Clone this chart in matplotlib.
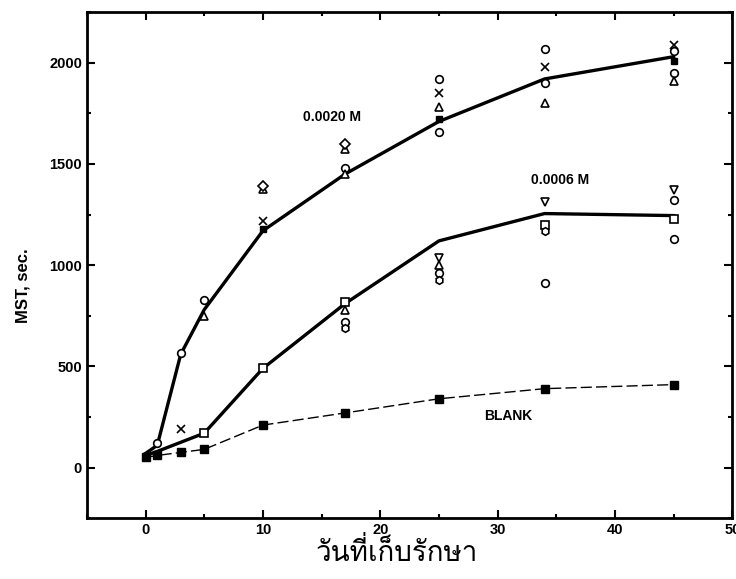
import matplotlib
matplotlib.use('Agg')
import matplotlib.pyplot as plt
from matplotlib import font_manager
from matplotlib.ft2font import FT2Font

# storage days and mean MST (seconds) of each series
days = [0, 1, 3, 5, 10, 17, 25, 34, 45]
mst_blank = [50, 60, 75, 90, 210, 270, 340, 390, 410]
mst_20 = [70, 110, 560, 780, 1170, 1450, 1710, 1920, 2030]
mst_06 = [60, 80, 125, 170, 490, 810, 1120, 1255, 1245]

# replicate readings, 0.0020 M
rep20_circ_x = [1, 3, 5, 17, 25, 25, 34, 34, 45, 45]
rep20_circ_y = [120, 565, 830, 1480, 1920, 1660, 2070, 1900, 2060, 1950]
rep20_cross_x = [3, 10, 25, 34, 45]
rep20_cross_y = [190, 1220, 1850, 1980, 2090]
rep20_tri_x = [5, 10, 17, 17, 25, 34, 45]
rep20_tri_y = [750, 1375, 1575, 1450, 1780, 1800, 1910]
rep20_dia_x = [10, 17]
rep20_dia_y = [1390, 1600]
rep20_sq_x = [10, 25, 45]
rep20_sq_y = [1180, 1720, 2010]

# replicate readings, 0.0006 M
rep06_sq_x = [5, 10, 17, 34, 45]
rep06_sq_y = [170, 490, 820, 1200, 1230]
rep06_vtri_x = [25, 34, 45]
rep06_vtri_y = [1035, 1310, 1370]
rep06_tri_x = [17, 25]
rep06_tri_y = [780, 1000]
rep06_circ_x = [17, 25, 34, 45, 45]
rep06_circ_y = [720, 960, 910, 1130, 1320]
rep06_hex_x = [17, 25, 34]
rep06_hex_y = [690, 925, 1170]

series_labels = ['0.0020 M', '0.0006 M', 'BLANK']
label_pos = [(15.9, 1730), (35.3, 1420), (30.9, 255)]

xticks = [0, 10, 20, 30, 40, 50]
yticks = [0, 500, 1000, 1500, 2000]


def thai_family():
    # first installed font that has Thai glyphs
    for f in font_manager.fontManager.ttflist:
        try:
            if FT2Font(f.fname).get_char_index(0x0E27):
                return f.name
        except Exception:
            pass
    return 'DejaVu Sans'


plt.rcParams['font.family'] = ['Liberation Sans', 'DejaVu Sans']

fig = plt.figure(figsize=(7.36, 5.79), dpi=100)
ax = fig.add_axes([0.118, 0.105, 0.877, 0.874])

ax.plot(days, mst_20, color='black', linewidth=2.4, zorder=3)
ax.plot(days, mst_06, color='black', linewidth=2.4, zorder=3)
ax.plot(days, mst_blank, color='black', linewidth=1.0, dashes=(8, 3),
        marker='s', markersize=5.5, zorder=3)

opn = dict(linestyle='none', markerfacecolor='white', markeredgecolor='black',
           markeredgewidth=1.2, markersize=5.5, zorder=4)
ax.plot(rep20_circ_x, rep20_circ_y, marker='o', **opn)
ax.plot(rep20_cross_x, rep20_cross_y, marker='x', color='black', linestyle='none',
        markersize=5.5, markeredgewidth=1.2, zorder=4)
ax.plot(rep20_tri_x, rep20_tri_y, marker='^', **opn)
ax.plot(rep20_dia_x, rep20_dia_y, marker='D', **opn)
ax.plot(rep20_sq_x, rep20_sq_y, marker='s', color='black', linestyle='none',
        markersize=5, zorder=4)

ax.plot(rep06_sq_x, rep06_sq_y, marker='s', **opn)
ax.plot(rep06_vtri_x, rep06_vtri_y, marker='v', **opn)
ax.plot(rep06_tri_x, rep06_tri_y, marker='^', **opn)
ax.plot(rep06_circ_x, rep06_circ_y, marker='o', **opn)
ax.plot(rep06_hex_x, rep06_hex_y, marker='h', **opn)

for txt, (tx, ty) in zip(series_labels, label_pos):
    ax.text(tx, ty, txt, ha='center', va='center', fontsize=10,
            fontweight='bold')

ax.set_xlim(-5, 50)
ax.set_ylim(-250, 2250)
ax.set_xticks(xticks)
ax.set_yticks(yticks)
ax.set_xticks(range(-5, 51, 5), minor=True)
ax.set_yticks(range(-250, 2251, 250), minor=True)
ax.tick_params(which='both', direction='in', top=True, right=True,
               labelsize=10.5, width=1.5)
ax.tick_params(which='major', length=6)
ax.tick_params(which='minor', length=3)
for lbl in ax.get_xticklabels() + ax.get_yticklabels():
    lbl.set_fontweight('bold')
for s in ax.spines.values():
    s.set_linewidth(2)

ax.set_ylabel('MST, sec.', fontsize=12, fontweight='bold')
ax.yaxis.set_label_coords(-0.088, 0.46)
ax.set_xlabel('วันที่เก็บรักษา', fontsize=20, family=[thai_family(), 'DejaVu Sans'])
ax.xaxis.set_label_coords(0.48, -0.04)

fig.savefig('out.png', dpi=100)
